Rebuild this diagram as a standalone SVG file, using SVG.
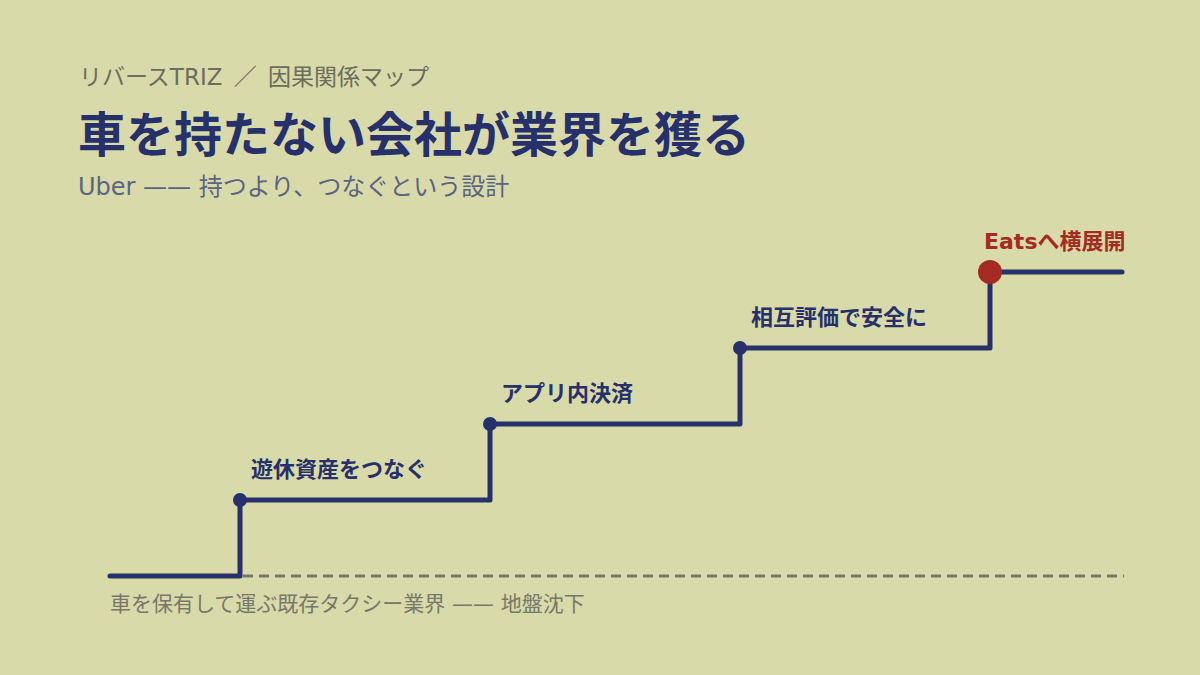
<svg xmlns="http://www.w3.org/2000/svg" width="1200" height="675" viewBox="0 0 1200 675">
<style>
text{font-family:"DejaVu Sans","Noto Sans CJK JP",sans-serif}
.kicker{font-size:23px;fill:#6b6d5e;word-spacing:4px}
.title{font-family:"Noto Sans CJK JP",sans-serif;font-size:48px;font-weight:700;fill:#26306b}
.sub{font-size:24px;fill:#5c6383}
.lbl{font-size:22px;font-weight:700;fill:#26306b}
.lbl-red{font-size:22px;font-weight:700;fill:#a52a22}
.base{font-size:21px;fill:#77786a}
.step{fill:none;stroke:#26306b;stroke-width:5;stroke-linecap:round;stroke-linejoin:round}
.dash{stroke:#77776e;stroke-width:3;stroke-dasharray:10 6}
.dot{fill:#26306b}
</style>
<rect width="1200" height="675" fill="#d9daa9"/>
<g id="header">
<text class="kicker" x="79" y="85">リバースTRIZ ／ 因果関係マップ</text>
<text class="title" x="78" y="152">車を持たない会社が業界を獲る</text>
<text class="sub" x="78" y="195">Uber —— 持つより、つなぐという設計</text>
</g>
<g id="connectors">
<line class="dash" x1="243" y1="576" x2="1124" y2="576"/>
<path class="step" d="M110,576 H240 V500 H490 V424 H740 V348 H990 V272 H1122"/>
</g>
<g id="node-base">
<text class="base" x="110" y="611">車を保有して運ぶ既存タクシー業界 —— 地盤沈下</text>
</g>
<g id="node-step1">
<circle class="dot" cx="240" cy="500" r="7"/>
<text class="lbl" x="251" y="477">遊休資産をつなぐ</text>
</g>
<g id="node-step2">
<circle class="dot" cx="490" cy="424" r="7"/>
<text class="lbl" x="501" y="401">アプリ内決済</text>
</g>
<g id="node-step3">
<circle class="dot" cx="740" cy="348" r="7"/>
<text class="lbl" x="751" y="325">相互評価で安全に</text>
</g>
<g id="node-step4">
<circle cx="990" cy="272" r="12" fill="#a52a22"/>
<text class="lbl-red" x="984" y="249">Eatsへ横展開</text>
</g>
</svg>
